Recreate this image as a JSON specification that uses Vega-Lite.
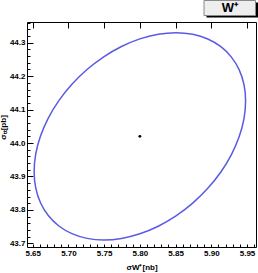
{
  "$schema": "https://vega.github.io/schema/vega-lite/v6.json",
  "width": 229,
  "height": 225,
  "autosize": {"type": "none"},
  "padding": {"left": 27, "top": 22, "right": 2, "bottom": 26},
  "background": "white",
  "config": {
    "view": {"stroke": "black", "strokeWidth": 1},
    "font": "Liberation Sans"
  },
  "datasets": {
    "ellipse": [
      {"order": 0, "x": 5.948, "y": 44.1254},
      {"order": 1, "x": 5.9458, "y": 44.1744},
      {"order": 2, "x": 5.9391, "y": 44.2187},
      {"order": 3, "x": 5.9282, "y": 44.257},
      {"order": 4, "x": 5.9134, "y": 44.2881},
      {"order": 5, "x": 5.8951, "y": 44.3111},
      {"order": 6, "x": 5.874, "y": 44.3252},
      {"order": 7, "x": 5.8506, "y": 44.33},
      {"order": 8, "x": 5.8257, "y": 44.3254},
      {"order": 9, "x": 5.8, "y": 44.3115},
      {"order": 10, "x": 5.7743, "y": 44.2888},
      {"order": 11, "x": 5.7494, "y": 44.2579},
      {"order": 12, "x": 5.726, "y": 44.2198},
      {"order": 13, "x": 5.7049, "y": 44.1756},
      {"order": 14, "x": 5.6866, "y": 44.1267},
      {"order": 15, "x": 5.6718, "y": 44.0745},
      {"order": 16, "x": 5.6609, "y": 44.0207},
      {"order": 17, "x": 5.6542, "y": 43.9668},
      {"order": 18, "x": 5.652, "y": 43.9146},
      {"order": 19, "x": 5.6542, "y": 43.8656},
      {"order": 20, "x": 5.6609, "y": 43.8213},
      {"order": 21, "x": 5.6718, "y": 43.783},
      {"order": 22, "x": 5.6866, "y": 43.7519},
      {"order": 23, "x": 5.7049, "y": 43.7289},
      {"order": 24, "x": 5.726, "y": 43.7148},
      {"order": 25, "x": 5.7494, "y": 43.71},
      {"order": 26, "x": 5.7743, "y": 43.7146},
      {"order": 27, "x": 5.8, "y": 43.7285},
      {"order": 28, "x": 5.8257, "y": 43.7512},
      {"order": 29, "x": 5.8506, "y": 43.7821},
      {"order": 30, "x": 5.874, "y": 43.8202},
      {"order": 31, "x": 5.8951, "y": 43.8644},
      {"order": 32, "x": 5.9134, "y": 43.9133},
      {"order": 33, "x": 5.9282, "y": 43.9655},
      {"order": 34, "x": 5.9391, "y": 44.0193},
      {"order": 35, "x": 5.9458, "y": 44.0732}
    ],
    "center": [{"x": 5.8, "y": 44.02}],
    "label": [{"text": "W⁺"}]
  },
  "resolve": {"axis": {"x": "independent", "y": "independent"}},
  "layer": [
    {
      "data": {"name": "ellipse"},
      "mark": {"type": "line", "interpolate": "cardinal-closed", "color": "#5a5ae6", "strokeWidth": 1.5},
      "encoding": {
        "x": {
          "field": "x", "type": "quantitative",
          "scale": {"domain": [5.642, 5.9626], "nice": false, "zero": false},
          "axis": {
            "orient": "bottom",
            "title": "σW⁺[nb]",
            "titleFont": "Liberation Sans", "titleFontSize": 8, "titleFontWeight": "bold", "titlePadding": 6,
            "domain": false,
            "labelOverlap": false, "labelFlush": false,
            "values": [5.65,5.66,5.67,5.68,5.69,5.70,5.71,5.72,5.73,5.74,5.75,5.76,5.77,5.78,5.79,5.80,5.81,5.82,5.83,5.84,5.85,5.86,5.87,5.88,5.89,5.90,5.91,5.92,5.93,5.94,5.95,5.96],
            "labelExpr": "abs(datum.value*20 - round(datum.value*20)) < 0.001 ? format(datum.value, '.2f') : ''",
            "labelFontSize": 8, "labelFontWeight": "bold", "labelColor": "black", "labelPadding": 5,
            "tickColor": "black", "tickSize": -3,
            "grid": true, "gridColor": "black", "gridWidth": 1, "gridDash": [6, 400],
            "gridOpacity": {"condition": {"test": "abs(datum.value*20 - round(datum.value*20)) < 0.001", "value": 1}, "value": 0}
          }
        },
        "y": {
          "field": "y", "type": "quantitative",
          "scale": {"domain": [43.689, 44.362], "nice": false, "zero": false},
          "axis": {
            "orient": "left",
            "title": "σₜₜ[pb]",
            "titleFont": "Liberation Sans", "titleFontSize": 8, "titleFontWeight": "bold", "titlePadding": 2, "titleY": 105,
            "domain": false,
            "labelOverlap": false, "labelFlush": false,
            "values": [43.70,43.72,43.74,43.76,43.78,43.80,43.82,43.84,43.86,43.88,43.90,43.92,43.94,43.96,43.98,44.00,44.02,44.04,44.06,44.08,44.10,44.12,44.14,44.16,44.18,44.20,44.22,44.24,44.26,44.28,44.30,44.32,44.34,44.36],
            "labelExpr": "abs(datum.value*10 - round(datum.value*10)) < 0.001 ? format(datum.value, '.1f') : ''",
            "labelFontSize": 8, "labelFontWeight": "bold", "labelColor": "black", "labelPadding": 5,
            "tickColor": "black", "tickSize": -3,
            "grid": true, "gridColor": "black", "gridWidth": 1, "gridDash": [6, 400],
            "gridOpacity": {"condition": {"test": "abs(datum.value*10 - round(datum.value*10)) < 0.001", "value": 1}, "value": 0}
          }
        },
        "order": {"field": "order", "type": "quantitative"}
      }
    },
    {
      "data": {"name": "center"},
      "mark": {"type": "circle", "size": 8, "color": "black", "opacity": 1},
      "encoding": {
        "x": {"field": "x", "type": "quantitative", "axis": null},
        "y": {"field": "y", "type": "quantitative", "axis": null}
      }
    },
    {
      "data": {"name": "label"},
      "mark": {"type": "rect", "color": "black"},
      "encoding": {
        "x": {"datum": 5.8933, "axis": null}, "x2": {"datum": 5.9674},
        "y": {"datum": 44.4203, "axis": null}, "y2": {"datum": 44.3755}
      }
    },
    {
      "data": {"name": "label"},
      "mark": {"type": "rect", "fill": "#eeeeee", "stroke": "#888888", "strokeWidth": 1},
      "encoding": {
        "x": {"datum": 5.8898, "axis": null}, "x2": {"datum": 5.9619},
        "y": {"datum": 44.4263, "axis": null}, "y2": {"datum": 44.3814}
      }
    },
    {
      "data": {"name": "label"},
      "mark": {"type": "text", "font": "Liberation Sans", "fontSize": 13, "fontWeight": "bold", "color": "black", "baseline": "middle", "align": "center"},
      "encoding": {
        "x": {"datum": 5.9262, "axis": null},
        "y": {"datum": 44.4039, "axis": null},
        "text": {"field": "text"}
      }
    }
  ]
}
